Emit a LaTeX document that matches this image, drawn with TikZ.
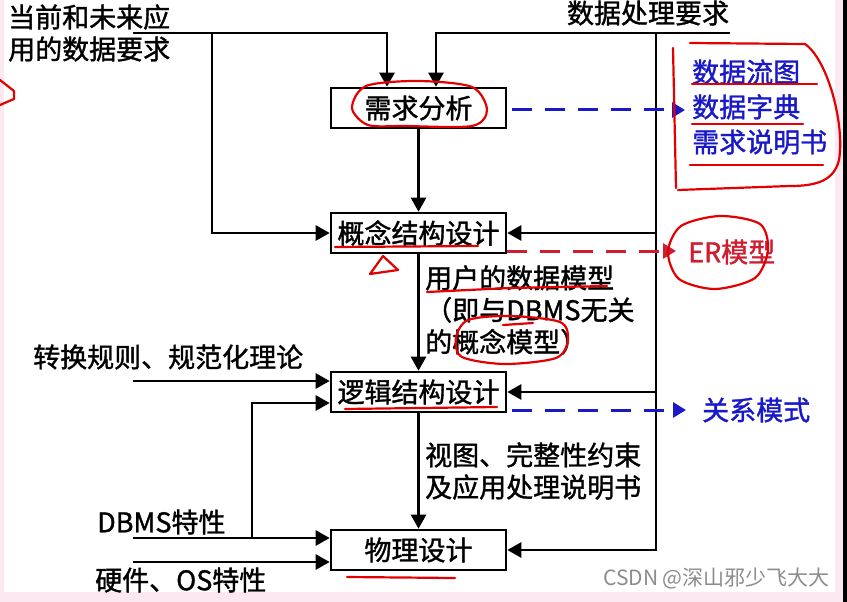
\documentclass[tikz,border=0pt]{standalone}
\usepackage{fontspec}
\setmainfont{Noto Sans CJK SC}[FakeBold=1.3]
\newfontfamily\wmfont{Noto Sans CJK SC}
\usetikzlibrary{arrows.meta,positioning,calc}
\definecolor{pinkbg}{RGB}{251,232,240}
\definecolor{listblue}{RGB}{25,25,200}
\definecolor{erred}{RGB}{205,30,50}
\definecolor{mark}{RGB}{228,0,0}
\tikzset{
  blk/.style={rectangle, draw=black, line width=2.6pt, fill=white, minimum width=175pt,
              minimum height=40pt, inner sep=0pt, font=\fontsize{27}{32}\selectfont},
  txt/.style={inner sep=0pt, anchor=west, align=left, font=\fontsize{27}{32}\selectfont},
  ar/.style={-{Triangle[length=14pt,width=15pt]}, line width=2.5pt},
  dar/.style={-{Triangle[length=13pt,width=15pt]}, line width=3pt, dash pattern=on 20pt off 13pt},
  hand/.style={draw=mark, line width=2.2pt, line cap=round, line join=round},
}

\begin{document}
\begin{tikzpicture}[x=1pt,y=-1pt]
\useasboundingbox (0,0) rectangle (847,602);
\fill[pinkbg] (0,0) rectangle (847,602);
\fill[white] (4,0) rectangle (835,592);
\fill[black] (843,0) rectangle (847,602);

% design stages
\foreach \n/\y/\t in {req/108/需求分析, concept/233/概念结构设计, logic/392/逻辑结构设计, phys/550/物理设计}
  \node[blk] (\n) at (418.5,\y) {\t};

% inputs and outputs
\node[txt] (appreq) at (8,33) {当前和未来应\\用的数据要求};
\node[txt, anchor=center] (procreq) at (648,13) {数据处理要求};
\node[txt] (rules) at (33,357) {转换规则、规范化理论};
\node[txt] (dbms) at (97,522) {DBMS特性};
\node[txt] (hw) at (95,580) {硬件、OS特性};
\node[txt] (usermodel) at (425,310) {用户的数据模型\\（即与DBMS无关\\的概念模型）};
\node[txt] (views) at (425,471) {视图、完整性约束\\及应用处理说明书};
\node[txt, text=listblue, font=\fontsize{27}{35}\selectfont] (lst) at (692,107) {数据流图\\数据字典\\需求说明书};
\node[txt, text=erred] (er) at (688,252) {ER模型};
\node[txt, text=listblue] (rel) at (702,410) {关系模式};
\node[txt, anchor=east, text=black!45, font=\wmfont\fontsize{21}{24}\selectfont] (wm) at (830,578) {CSDN @深山邪少飞大大};

\coordinate (inA) at (133,33);
\coordinate (jA) at (212,33);
\coordinate (inB) at (730,33);
\coordinate (jB) at (656,33);
\coordinate (inC) at (133,381);
\coordinate (inD) at (133,538);
\coordinate (jD) at (252,538);
\coordinate (inE) at (133,562);
\coordinate (lstin) at (685,110);
\coordinate (erin) at (676,251);
\coordinate (relin) at (686,410);

\draw[ar] (inA) -| ([xshift=-31.5pt]req.north);
\draw[ar] (jA) |- (concept.west);
\draw[ar] (inB) -| ([xshift=17.5pt]req.north);
\draw[ar] (jB) |- (phys.east);
\draw[ar] (jB |- concept.east) -- (concept.east);
\draw[ar] (jB |- logic.east) -- (logic.east);
\foreach \a/\b in {req/concept, concept/logic, logic/phys}
  \draw[ar] (\a) -- (\b);
\draw[ar] (inC) -- (inC -| logic.west);
\draw[ar] (inD) -- (inD -| phys.west);
\draw[ar] (jD) |- ([yshift=-11pt]logic.west);
\draw[ar] (inE) -- (inE -| phys.west);

\draw[dar, listblue] ([xshift=5pt]req.east |- lstin) -- (lstin);
\draw[dar, erred] ([yshift=-18pt]concept.east) -- (erin);
\draw[dar, listblue] ([xshift=5pt]logic.east |- relin) -- (relin);

% red pen marks
\draw[hand] plot[smooth cycle] coordinates {(352,108) (366,86) (418,81) (472,87) (487,110) (472,126) (405,126) (368,125)};
\draw[hand] (335,247) -- (478,246);
\draw[hand] (370,274) -- (383,256) -- (398,270) -- cycle;
\draw[hand] (427,292) -- (510,288) -- (607,286);
\draw[hand] (503,325) -- (533,323);
\draw[hand] plot[smooth cycle] coordinates {(456,338) (468,320) (510,316) (560,322) (568,340) (556,358) (505,364) (462,357)};
\draw[hand] (345,409) -- (497,407);
\draw[hand] (347,577) -- (455,578);
\draw[hand] (676,188) -- (673,48);
\draw[hand] (690,43) -- (805,44) .. controls (828,60) and (845,125) .. (839,160)
  .. controls (834,180) and (818,186) .. (790,186) -- (678,190);
\draw[hand] (692,84) -- (817,84);
\draw[hand] (692,124) -- (803,124);
\draw[hand] (690,165) -- (823,165);
\draw[hand] plot[smooth cycle] coordinates {(668,252) (681,226) (720,216) (760,224) (768,250) (755,278) (715,289) (679,279)};
\draw[hand] (0,80) -- (14,91) -- (14,99) -- (0,105);
\end{tikzpicture}
\end{document}
